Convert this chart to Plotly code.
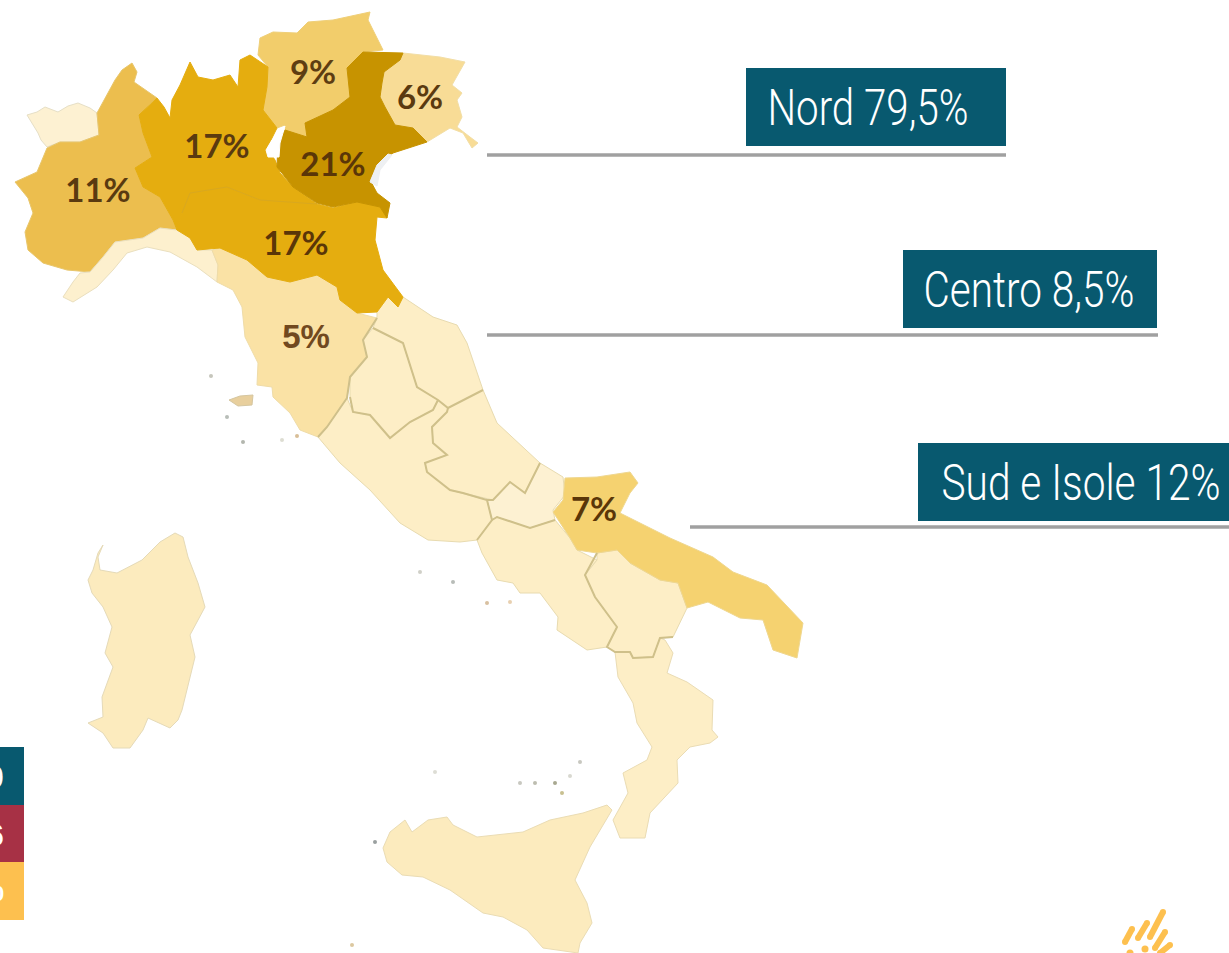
import json
import plotly.graph_objects as go

W, H = 1229, 953

# Region outlines (x, y in image pixels)
VALLE_AOSTA = [(27,115),(37,112),(45,107),(58,112),(68,106),(78,103),(90,108),(97,113),(99,135),(80,142),(60,142),(47,147),(41,140),(38,133)]
PIEMONTE = [(132,63),(137,72),(134,82),(146,90),(157,98),(147,107),(139,115),(143,133),(152,157),(135,168),(143,187),(160,197),(173,220),(177,230),(160,228),(143,238),(115,242),(103,257),(90,272),(67,270),(43,263),(28,250),(25,232),(33,213),(28,198),(15,182),(37,172),(47,148),(60,142),(80,142),(99,135),(97,113),(115,80),(122,70)]
LOMBARDIA = [(190,62),(198,77),(213,80),(230,75),(238,87),(240,60),(250,55),(268,67),(267,87),(263,110),(277,128),(267,148),(275,160),(280,173),(293,187),(317,204),(290,203),(260,200),(227,187),(190,193),(182,213),(177,230),(173,220),(160,197),(143,187),(135,168),(152,157),(143,133),(139,115),(157,98),(164,107),(170,118),(172,100),(180,85)]
EMILIA = [(177,230),(182,213),(190,193),(227,187),(260,200),(317,204),(333,208),(357,202),(380,207),(387,218),(377,217),(375,240),(383,270),(403,297),(398,307),(388,297),(377,312),(357,313),(340,300),(337,287),(317,275),(290,282),(267,277),(247,260),(220,248),(197,250),(190,238)]
VENETO = [(363,52),(403,53),(400,60),(384,72),(382,83),(380,97),(385,107),(395,125),(413,128),(427,142),(393,153),(377,165),(370,180),(377,193),(390,203),(387,218),(380,207),(357,202),(333,207),(317,203),(293,187),(277,167),(278,140),(285,130),(307,137),(305,123),(333,110),(350,97),(347,68)]
TRENTINO = [(260,38),(273,32),(297,33),(308,22),(333,20),(370,12),(368,20),(383,50),(363,52),(347,68),(350,97),(333,110),(305,123),(307,137),(285,130),(285,125),(277,128),(263,110),(267,87),(268,67),(258,55)]
FRIULI = [(403,53),(440,57),(465,62),(458,75),(452,85),(462,93),(457,100),(462,117),(457,127),(470,137),(478,143),(472,148),(463,133),(450,128),(427,142),(413,128),(395,125),(385,107),(380,97),(382,83),(384,72),(400,60)]
LIGURIA = [(160,228),(177,230),(190,238),(197,250),(212,250),(218,265),(217,282),(197,267),(170,252),(147,247),(127,253),(113,270),(97,287),(73,302),(63,297),(73,282),(80,273),(90,272),(103,257),(115,242),(143,238)]
TOSCANA = [(212,250),(220,248),(247,260),(267,277),(290,282),(317,275),(337,287),(340,300),(357,313),(377,318),(363,340),(367,357),(350,377),(347,398),(327,427),(318,437),(300,430),(290,413),(273,397),(272,387),(257,385),(258,363),(245,337),(242,307),(233,290),(217,282),(218,265)]
UMBRIA = [(373,328),(403,343),(417,387),(438,400),(433,410),(410,422),(390,438),(370,415),(353,412),(350,397),(350,377),(367,357),(363,340)]
MARCHE = [(377,318),(377,312),(388,297),(398,307),(403,297),(433,317),(457,325),(467,343),(483,390),(448,408),(438,400),(417,387),(403,343),(373,328)]
LAZIO = [(318,437),(327,427),(347,398),(353,412),(370,415),(390,438),(410,422),(433,410),(438,400),(448,408),(447,412),(432,427),(433,443),(447,455),(425,463),(427,472),(450,490),(487,500),(492,520),(477,540),(460,542),(428,540),(400,523),(370,490),(340,463)]
ABRUZZO = [(483,390),(497,423),(540,463),(525,493),(510,482),(493,500),(463,493),(450,490),(427,472),(425,463),(447,455),(433,443),(432,427),(447,412),(448,408)]
MOLISE = [(540,463),(563,477),(565,495),(553,510),(555,520),(530,528),(497,517),(492,520),(487,500),(493,500),(510,482),(525,493)]
CAMPANIA = [(497,517),(530,528),(555,520),(570,538),(577,550),(597,560),(585,575),(595,597),(617,627),(607,647),(587,650),(557,630),(558,617),(540,593),(520,593),(513,583),(497,580),(482,553),(477,540),(492,520)]
PUGLIA = [(565,478),(597,477),(630,472),(638,483),(630,493),(620,513),(670,538),(713,557),(733,572),(767,585),(803,623),(797,658),(773,650),(763,620),(740,618),(708,602),(687,608),(678,583),(660,580),(630,563),(617,550),(597,553),(577,550),(570,538),(553,512),(563,500)]
BASILICATA = [(597,560),(597,553),(617,550),(630,563),(660,580),(678,583),(687,608),(673,637),(660,638),(653,657),(633,658),(630,652),(615,652),(607,647),(617,627),(595,597),(585,575)]
CALABRIA = [(615,652),(630,652),(633,658),(653,657),(660,638),(665,640),(673,653),(667,673),(687,682),(713,700),(712,730),(718,737),(710,743),(690,747),(677,760),(678,783),(650,813),(645,838),(620,838),(613,820),(628,793),(623,773),(647,760),(652,747),(637,723),(633,703),(618,677)]
SICILIA = [(383,848),(390,832),(405,820),(412,832),(428,820),(447,817),(453,825),(477,837),(523,832),(550,820),(583,813),(607,805),(612,810),(590,847),(575,880),(587,903),(592,923),(580,943),(578,953),(543,948),(527,930),(503,917),(483,913),(450,890),(423,877),(402,875),(387,862)]
SARDEGNA = [(103,545),(98,553),(93,570),(88,580),(92,593),(103,607),(112,627),(105,653),(113,667),(102,697),(103,717),(88,723),(103,733),(113,748),(130,748),(143,730),(148,718),(170,728),(178,720),(182,710),(195,657),(190,635),(205,607),(198,583),(188,557),(183,537),(175,533),(160,542),(142,560),(117,573),(100,570),(98,557)]
ELBA = [(229,400),(240,396),(253,395),(252,405),(238,406)]
LAGO_GARDA = [(266,150),(272,140),(285,126),(280,143),(279,157),(268,157)]
LAGUNA_VENETA = [(370,182),(377,165),(388,154),(392,155),(380,170),(377,186)]

REGIONS = [VALLE_AOSTA, PIEMONTE, LIGURIA, TOSCANA, UMBRIA, MARCHE, LAZIO, ABRUZZO, MOLISE, CAMPANIA, BASILICATA, CALABRIA, SICILIA, SARDEGNA, ELBA, PUGLIA, TRENTINO, FRIULI, LOMBARDIA, EMILIA, VENETO, LAGO_GARDA, LAGUNA_VENETA]
FILLS = ["#FDF1D2","#ECBE4E","#FDF0CE","#FAE2A5","#FDEEC6","#FDEEC6","#FDEEC6","#FDEEC6","#FDF1D2","#FDEEC6","#FDEEC6","#FDEEC6","#FCEBBE","#FCEBBE","#E8CF9D","#F5D270","#F2CD6B","#F8DC96","#E5AD0F","#E5AD0F","#C79300","#FFFFFF","#EEF0F2"]
EDGES = ["#E6DFC6","#E8C66C","#EADFBE","#EFDCA8","#E8DBB0","#E8DBB0","#E8DBB0","#E8DBB0","#E8DBB0","#E8DBB0","#E8DBB0","#EADCB4","#EADCB4","#E5DAB8","#D5C6A0","#EFD78F","#EFCF78","#F2DEA6","#E5AD0F","#E5AD0F","#C79300","#FFFFFF","#EEF0F2"]

# Internal borders of the central and southern regions
INNER_BORDERS = [
    [(377,318),(363,340),(367,357),(350,377),(347,398),(327,427),(318,437)],
    [(373,328),(403,343),(417,387),(438,400),(448,408),(483,390)],
    [(350,397),(353,412),(370,415),(390,438),(410,422),(433,410),(438,400)],
    [(448,408),(447,412),(432,427),(433,443),(447,455),(425,463),(427,472),(450,490),(463,493),(487,500),(492,520),(477,540)],
    [(487,500),(493,500),(510,482),(525,493),(540,463)],
    [(492,520),(497,517),(530,528),(555,520)],
    [(597,553),(585,575),(595,597),(617,627),(607,647),(615,652),(630,652),(633,658),(653,657),(660,638),(673,637)],
]
LOMBARDIA_EMILIA_BORDER = [(182,213),(190,193),(227,187),(260,200),(317,204)]

PCT_LABELS = ["9%","6%","17%","21%","11%","17%","7%","5%"]
PCT_X = [313,420,217,333,98,296,594,306]
PCT_Y = [76,101,150,168,194,247,513,340]
PCT_COLORS = ["#5E3D12","#5A3A10","#5A3A10","#5A3608","#5A3A10","#5A3608","#5A3608","#71491F"]
PCT_FONTS = ["Lato"] * 7 + ["Liberation Sans"]

BOX_TEXTS = ["Nord 79,5%","Centro 8,5%","Sud e Isole 12%"]
BOX_X0 = [746,903,918]
BOX_X1 = [1006,1157,1229]
BOX_Y0 = [68,250,443]
BOX_Y1 = [146,328,521]
TEXT_X = [868,1029,1081]
TEXT_Y = [112,294,487]
TEXT_WIDTHS = [201,211,279]
LEADER_X0 = [487,487,690]
LEADER_X1 = [1006,1158,1229]
LEADER_Y = [155,335,527]

LEGEND_Y0 = [747,805,862]
LEGEND_Y1 = [805,862,920]
LEGEND_COLORS = ["#08596F","#A73145","#FDC04F"]
LEGEND_TEXT = ["0","6","0"]
LEGEND_TEXT_Y = [777,835,893]
LEGEND_TEXT_SIZE = [32,32,22]

SPECK_X = [211,227,243,282,297,420,453,487,510,352,435,520,535,555,562,580,570,375]
SPECK_Y = [376,417,442,440,436,572,582,603,602,945,772,783,783,783,793,762,776,842]
SPECK_COLORS = ["#C6C6BC","#B8BDB8","#B3B6AE","#DDDDD2","#D8BE98","#D0D0C8","#B8BCB8","#D8C0A0","#E8D0B0","#DCC8A0","#DDDDD5","#C8C8C0","#BDBDB0","#A8A890","#C8C090","#C8C8C0","#D8D8D0","#9AA0A0"]

LOGO_STROKES = [
    [(1125,942),(1132,929)],
    [(1138,938),(1147,923)],
    [(1150,937),(1163,912)],
    [(1155,948),(1165,932)],
    [(1160,953),(1170,945)],
]
LOGO_DOT_X = [1145,1130]
LOGO_DOT_Y = [949,953]

fig = go.Figure()

def poly(pts, fill, edge, width=1.0):
    xs = [p[0] for p in pts] + [pts[0][0]]
    ys = [p[1] for p in pts] + [pts[0][1]]
    fig.add_trace(go.Scatter(x=xs, y=ys, mode="lines", fill="toself", fillcolor=fill,
                             line=dict(color=edge, width=width), hoverinfo="skip"))

def polyline(pts, color, width, caps=False):
    fig.add_trace(go.Scatter(x=[p[0] for p in pts], y=[p[1] for p in pts],
                             mode="lines+markers" if caps else "lines",
                             marker=dict(size=width, color=color, line=dict(width=0)),
                             line=dict(color=color, width=width), hoverinfo="skip"))

for pts, f, e in zip(REGIONS, FILLS, EDGES):
    poly(pts, f, e)
for border in INNER_BORDERS:
    polyline(border, "#CFC08A", 2)
polyline(LOMBARDIA_EMILIA_BORDER, "#D9A81F", 1)

fig.add_trace(go.Scatter(x=SPECK_X, y=SPECK_Y, mode="markers",
                         marker=dict(size=4, color=SPECK_COLORS, line=dict(width=0)), hoverinfo="skip"))

fig.add_trace(go.Scatter(x=PCT_X, y=PCT_Y, mode="text", text=PCT_LABELS,
                         textfont=dict(family=PCT_FONTS, size=33, color=PCT_COLORS, weight="bold"),
                         textposition="middle center", hoverinfo="skip"))

# Leader lines and labelled boxes
for x0, x1, y in zip(LEADER_X0, LEADER_X1, LEADER_Y):
    polyline([(x0, y), (x1, y)], "#A0A0A0", 3.5)
for x0, x1, y0, y1 in zip(BOX_X0, BOX_X1, BOX_Y0, BOX_Y1):
    fig.add_trace(go.Bar(x=[(x0 + x1) / 2], y=[y1 - y0], base=[y0], width=[x1 - x0],
                         marker=dict(color="#08596F", line=dict(width=0)), hoverinfo="skip"))
fig.add_trace(go.Scatter(x=TEXT_X, y=TEXT_Y, mode="text", text=BOX_TEXTS,
                         textfont=dict(family="Roboto", size=50, color="#FFFFFF", weight=300),
                         textposition="middle center", hoverinfo="skip"))

# Legend stubs cut by the left edge
for y0, y1, c in zip(LEGEND_Y0, LEGEND_Y1, LEGEND_COLORS):
    fig.add_trace(go.Bar(x=[12], y=[y1 - y0], base=[y0], width=[24],
                         marker=dict(color=c, line=dict(width=0)), hoverinfo="skip"))
for t, y, s in zip(LEGEND_TEXT, LEGEND_TEXT_Y, LEGEND_TEXT_SIZE):
    fig.add_annotation(x=6, y=y, text=t, xanchor="right", yanchor="middle", showarrow=False,
                       font=dict(family="Liberation Sans", size=s, color="#FFFFFF", weight="bold"))

# Logo
for stroke in LOGO_STROKES:
    polyline(stroke, "#FDC04F", 6, caps=True)
fig.add_trace(go.Scatter(x=LOGO_DOT_X, y=LOGO_DOT_Y, mode="markers",
                         marker=dict(size=7, color="#FDC04F", line=dict(width=0)), hoverinfo="skip"))

fig.update_layout(
    width=W, height=H, margin=dict(l=0, r=0, t=0, b=0),
    paper_bgcolor="white", plot_bgcolor="white", showlegend=False, barmode="overlay",
    xaxis=dict(range=[0, W], visible=False, fixedrange=True),
    yaxis=dict(range=[H, 0], visible=False, fixedrange=True),
)

# The boxes use a narrow face in the reference: condense the real text to the measured widths.
narrow = json.dumps(dict(zip(BOX_TEXTS, TEXT_WIDTHS)))
post = (
    "document.body.style.margin='0';document.body.style.overflow='hidden';"
    "var narrow=" + narrow + ";"
    "document.querySelectorAll('text').forEach(function(t){"
    "var w=narrow[t.textContent];if(w){t.setAttribute('textLength',w);"
    "t.setAttribute('lengthAdjust','spacingAndGlyphs');}});"
)
fig.write_html("out.html", post_script=post, config={"displayModeBar": False})
